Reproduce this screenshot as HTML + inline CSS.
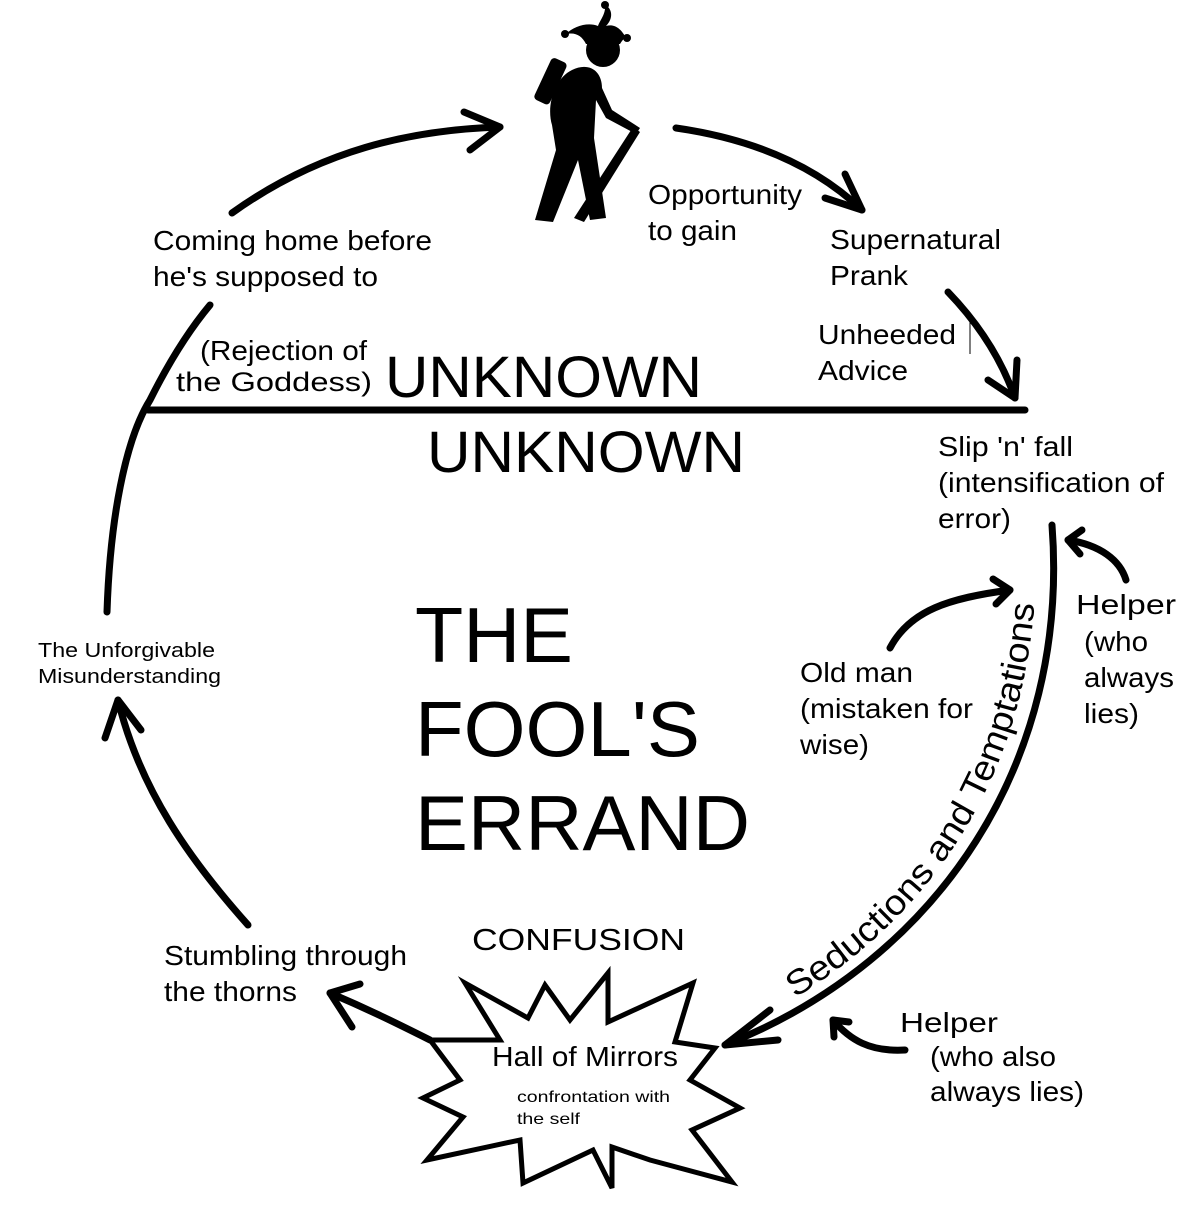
<!DOCTYPE html>
<html><head><meta charset="utf-8"><style>
html,body{margin:0;padding:0;background:#fff;}
svg{display:block;}
text{font-family:"Liberation Sans",sans-serif;fill:#000;}
</style></head><body>
<svg width="1200" height="1206" viewBox="0 0 1200 1206" xmlns="http://www.w3.org/2000/svg">
<g fill="none" stroke="#000" stroke-width="7" stroke-linecap="round" stroke-linejoin="round">
  <line x1="148" y1="410" x2="1025" y2="410"/>
  <path d="M107,612 C110,520 125,440 150,400 C165,370 185,335 210,305"/>
  <path d="M232,213 C320,150 410,130 500,127"/>
  <path d="M464,112 L500,127 L470,150"/>
  <path d="M676,128 C760,140 820,170 862,210"/>
  <path d="M825,198 L862,210 L845,174"/>
  <path d="M948,292 C975,320 1000,355 1015,398"/>
  <path d="M988,380 L1015,398 L1017,360"/>
  <path d="M1052,525 C1070,760 940,960 725,1045"/>
  <path d="M770,1010 L725,1045 L778,1040"/>
  <path d="M1126,580 C1120,560 1100,545 1068,540"/>
  <path d="M1082,530 L1068,540 L1080,554"/>
  <path d="M890,648 C910,610 950,598 1010,590"/>
  <path d="M993,579 L1010,590 L996,604"/>
  <path d="M905,1050 C870,1052 850,1040 833,1020"/>
  <path d="M834,1037 L833,1020 L849,1022"/>
  <path d="M248,925 C190,860 140,790 118,700"/>
  <path d="M105,738 L118,700 L141,730"/>
  <path d="M430,1040 C400,1025 370,1010 330,993"/>
  <path d="M352,1027 L330,993 L360,984"/>
</g>
<polygon points="465,983 528,1018 545,985 570,1020 608,973 608,1022 693,983 675,1042 715,1048 690,1080 740,1108 692,1130 732,1182 650,1160 612,1147 612,1188 593,1150 523,1183 520,1140 427,1160 463,1117 423,1098 460,1080 430,1040 500,1040" fill="#fff" stroke="#000" stroke-width="5" stroke-linejoin="miter"/>
<!-- jester figure -->
<g fill="#000">
  <circle cx="603" cy="50" r="17"/>
  <path d="M586,44 L620,44 C626,34 632,34 626,38 C620,26 612,24 606,26 C614,18 612,8 605,5 C606,14 600,20 598,26 C588,22 574,26 566,34 C576,32 582,36 586,44 Z"/>
  <circle cx="565" cy="34" r="4"/><circle cx="627" cy="38" r="4"/><circle cx="605" cy="5" r="4"/>
  <rect x="542" y="58" width="17" height="46" rx="4" transform="rotate(25 550 81)"/>
  <path d="M572,70 C588,62 602,70 602,88 L612,110 L640,128 L636,134 L606,118 L596,100 L594,138 L606,218 L590,220 L578,160 L553,222 L535,220 L556,150 L552,125 C546,105 555,78 572,70 Z"/>
  <path d="M633,127 L640,132 L584,222 L574,218 Z"/>
</g>
<text x="153" y="250" font-size="28" textLength="279" lengthAdjust="spacingAndGlyphs">Coming home before</text>
<text x="153" y="286" font-size="28" textLength="225" lengthAdjust="spacingAndGlyphs">he's supposed to</text>
<text x="200" y="360" font-size="28" textLength="167" lengthAdjust="spacingAndGlyphs">(Rejection of</text>
<text x="176" y="391" font-size="27" textLength="196" lengthAdjust="spacingAndGlyphs">the Goddess)</text>
<text x="385" y="397" font-size="58" textLength="317" lengthAdjust="spacingAndGlyphs">UNKNOWN</text>
<text x="427" y="472" font-size="58" textLength="318" lengthAdjust="spacingAndGlyphs">UNKNOWN</text>
<text x="648" y="204" font-size="28" textLength="154" lengthAdjust="spacingAndGlyphs">Opportunity</text>
<text x="648" y="240" font-size="28" textLength="89" lengthAdjust="spacingAndGlyphs">to gain</text>
<text x="830" y="249" font-size="28" textLength="171" lengthAdjust="spacingAndGlyphs">Supernatural</text>
<text x="830" y="285" font-size="28" textLength="78" lengthAdjust="spacingAndGlyphs">Prank</text>
<text x="818" y="344" font-size="28" textLength="138" lengthAdjust="spacingAndGlyphs">Unheeded</text>
<text x="818" y="380" font-size="28" textLength="90" lengthAdjust="spacingAndGlyphs">Advice</text>
<line x1="970" y1="322" x2="970" y2="354" stroke="#000" stroke-width="1"/>
<text x="938" y="456" font-size="28" textLength="135" lengthAdjust="spacingAndGlyphs">Slip 'n' fall</text>
<text x="938" y="492" font-size="28" textLength="226" lengthAdjust="spacingAndGlyphs">(intensification of</text>
<text x="938" y="528" font-size="28" textLength="73" lengthAdjust="spacingAndGlyphs">error)</text>
<text x="1076" y="614" font-size="28" textLength="100" lengthAdjust="spacingAndGlyphs">Helper</text>
<text x="1084" y="651" font-size="28" textLength="64" lengthAdjust="spacingAndGlyphs">(who</text>
<text x="1084" y="687" font-size="28" textLength="90" lengthAdjust="spacingAndGlyphs">always</text>
<text x="1084" y="723" font-size="28" textLength="55" lengthAdjust="spacingAndGlyphs">lies)</text>
<text x="800" y="682" font-size="28" textLength="113" lengthAdjust="spacingAndGlyphs">Old man</text>
<text x="800" y="718" font-size="28" textLength="173" lengthAdjust="spacingAndGlyphs">(mistaken for</text>
<text x="800" y="754" font-size="28" textLength="69" lengthAdjust="spacingAndGlyphs">wise)</text>
<text x="38" y="657" font-size="20" textLength="177" lengthAdjust="spacingAndGlyphs">The Unforgivable</text>
<text x="38" y="683" font-size="20" textLength="183" lengthAdjust="spacingAndGlyphs">Misunderstanding</text>
<text x="415" y="662" font-size="78" textLength="158" lengthAdjust="spacingAndGlyphs">THE</text>
<text x="415" y="756" font-size="78" textLength="285" lengthAdjust="spacingAndGlyphs">FOOL'S</text>
<text x="415" y="850" font-size="78" textLength="335" lengthAdjust="spacingAndGlyphs">ERRAND</text>
<text x="472" y="950" font-size="31" textLength="213" lengthAdjust="spacingAndGlyphs">CONFUSION</text>
<text x="164" y="965" font-size="28" textLength="243" lengthAdjust="spacingAndGlyphs">Stumbling through</text>
<text x="164" y="1001" font-size="28" textLength="133" lengthAdjust="spacingAndGlyphs">the thorns</text>
<text x="492" y="1066" font-size="28" textLength="186" lengthAdjust="spacingAndGlyphs">Hall of Mirrors</text>
<text x="517" y="1102" font-size="16" textLength="153" lengthAdjust="spacingAndGlyphs">confrontation with</text>
<text x="517" y="1124" font-size="16" textLength="63" lengthAdjust="spacingAndGlyphs">the self</text>
<text x="900" y="1032" font-size="28" textLength="98" lengthAdjust="spacingAndGlyphs">Helper</text>
<text x="930" y="1066" font-size="28" textLength="126" lengthAdjust="spacingAndGlyphs">(who also</text>
<text x="930" y="1101" font-size="28" textLength="154" lengthAdjust="spacingAndGlyphs">always lies)</text>
<defs><path id="sp" d="M795,998 C935,912 1032,770 1036,570"/></defs>
<text font-size="35"><textPath href="#sp" textLength="480" lengthAdjust="spacingAndGlyphs">Seductions and Temptations</textPath></text>
</svg>
</body></html>
